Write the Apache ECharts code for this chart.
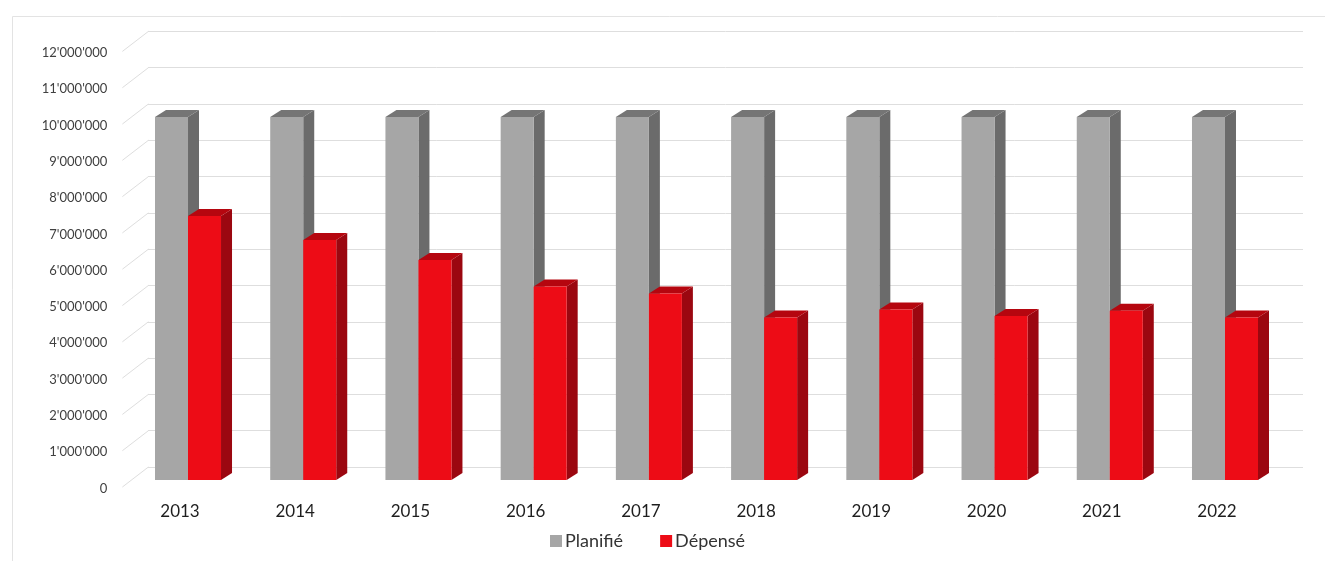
<!DOCTYPE html>
<html>
<head>
<meta charset="utf-8">
<script src="https://cdn.jsdelivr.net/npm/echarts@6/dist/echarts.min.js"></script>
<style>html,body{margin:0;padding:0;background:#fff;}#c{width:1325px;height:561px;}</style>
</head>
<body>
<div id="c"></div>
<script>
const years = ['2013','2014','2015','2016','2017','2018','2019','2020','2021','2022'];
const planned = [10000000,10000000,10000000,10000000,10000000,10000000,10000000,10000000,10000000,10000000];
const spent = [7270000,6610000,6060000,5330000,5140000,4480000,4700000,4520000,4660000,4480000];
const yTicks = [0,1000000,2000000,3000000,4000000,5000000,6000000,7000000,8000000,9000000,10000000,11000000,12000000];

const FONT = 'Lato, "Open Sans", sans-serif';
const DX = 11, DY = -7;
function fmt(v){ return String(v).replace(/\B(?=(\d{3})+(?!\d))/g, "'"); }

function makeBar(left, front, side, topc){
  return function(params, api){
    const i = api.value(0), v = api.value(1);
    const t = api.coord([i, v]);
    const b = api.coord([i, 0]);
    const band = api.size([1, 0])[0];
    const w = band * 0.2865;
    const x0 = left ? t[0] - w : t[0];
    const x1 = x0 + w;
    const yt = t[1], yb = b[1];
    return {type:'group', children:[
      {type:'polygon', shape:{points:[[x1,yb],[x1+DX,yb+DY],[x1+DX,yt+DY],[x1,yt]]}, style:{fill:side}},
      {type:'polygon', shape:{points:[[x0,yt],[x0+DX,yt+DY],[x1+DX,yt+DY],[x1,yt]]}, style:{fill:topc}},
      {type:'rect', shape:{x:x0, y:yt, width:w, height:yb-yt}, style:{fill:front}}
    ]};
  };
}

const chart = echarts.init(document.getElementById('c'));
chart.setOption({
  backgroundColor:'#fff',
  animation:false,
  graphic:[{type:'rect', left:10, top:14, shape:{width:1330, height:560}, style:{fill:null, stroke:'#e3e3e3', lineWidth:1}, z:-10}],
  grid:[
    {left:130.4, right:42.4, top:44.4, bottom:81},
    {left:148, right:22, top:31.4, bottom:94}
  ],
  xAxis:[
    {gridIndex:0, type:'category', data:years, axisLine:{show:false}, axisTick:{show:false},
     axisLabel:{margin:23, fontSize:17, color:'#1e1e1e', fontFamily:FONT, padding:[0,16,0,0]}},
    {gridIndex:1, type:'category', data:years, show:false}
  ],
  yAxis:[
    {gridIndex:0, type:'value', min:0, max:12000000, interval:1000000, splitLine:{show:false},
     axisLine:{show:false}, axisTick:{show:false},
     axisLabel:{margin:23, fontSize:13, color:'#404040', fontFamily:FONT, verticalAlign:'top', lineHeight:17, padding:[0,0,0,0], formatter:fmt}},
    {gridIndex:1, type:'value', min:0, max:12000000, interval:1000000,
     axisLine:{show:false}, axisTick:{show:false}, axisLabel:{show:false},
     splitLine:{lineStyle:{color:'#dedede', width:1}}}
  ],
  legend:{
    data:['Planifié','Dépensé'], left:545, top:527, icon:'rect', itemWidth:12, itemHeight:12, itemGap:37,
    textStyle:{fontSize:18, color:'#333', fontFamily:FONT, padding:[0,0,0,-2]}
  },
  series:[
    {type:'custom', name:'diag', xAxisIndex:0, yAxisIndex:0, silent:true, z:1,
     data:yTicks.map(v=>[0,v]),
     renderItem:function(params, api){
       const p = api.coord([0, api.value(1)]);
       const L = params.coordSys.x;
       return {type:'line', shape:{x1:L-8, y1:p[1]+7, x2:L+18, y2:p[1]-13}, style:{stroke:'#dedede', lineWidth:1}};
     }},
    {type:'custom', name:'Planifié', xAxisIndex:0, yAxisIndex:0, z:3, itemStyle:{color:'#a6a6a6'},
     encode:{x:0, y:1}, data:years.map((y,i)=>[i, planned[i]]),
     renderItem:makeBar(true, '#a6a6a6', '#6b6b6b', '#757575')},
    {type:'custom', name:'Dépensé', xAxisIndex:0, yAxisIndex:0, z:4, itemStyle:{color:'#ed0c16'},
     encode:{x:0, y:1}, data:years.map((y,i)=>[i, spent[i]]),
     renderItem:makeBar(false, '#ed0c16', '#9b0710', '#b5060f')}
  ]
});
</script>
</body>
</html>
